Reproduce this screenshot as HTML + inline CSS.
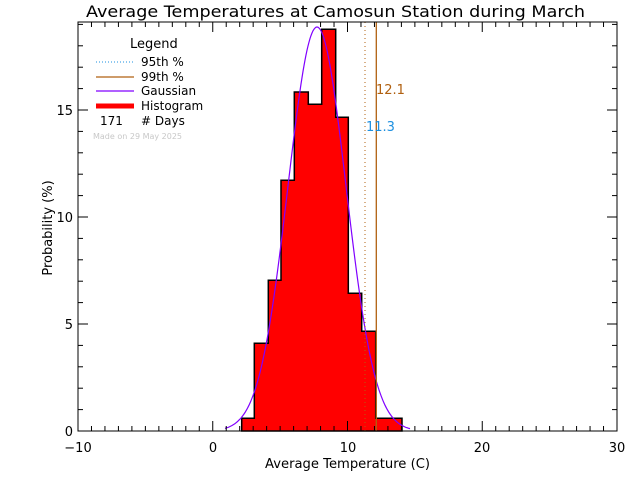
<!DOCTYPE html>
<html><head><meta charset="utf-8"><style>
html,body{margin:0;padding:0;background:#fff;}
svg{display:block;font-family:"DejaVu Sans","Liberation Sans",sans-serif;}
</style></head><body>
<svg width="640" height="480" viewBox="0 0 640 480" xmlns="http://www.w3.org/2000/svg">
<rect width="640" height="480" fill="#fff"/>
<text x="86" y="17" font-size="16" textLength="499" lengthAdjust="spacingAndGlyphs">Average Temperatures at Camosun Station during March</text>
<!-- bars -->
<path d="M241.7,431 V418.3 H254.3 V343.3 H268.3 V280.3 H281 V180.3 H294.3 V92 H308.3 V104.3 H321.7 V29.3 H335.7 V117.3 H348.3 V293.3 H361.7 V331.3 H375.7 V418.3 H402 V431 Z" fill="#ff0000" stroke="#000" stroke-width="1.5"/>
<!-- gaussian -->
<path id="g" fill="none" stroke="#8000ff" stroke-width="1.2" d=""/>
<line x1="365" y1="22" x2="365" y2="431" stroke="#b06010" stroke-width="1" stroke-dasharray="1,3"/>
<line x1="376.3" y1="22" x2="376.3" y2="431" stroke="#b06010" stroke-width="1.3"/>
<text x="376" y="94" font-size="13" fill="#b06010">12.1</text>
<text x="366" y="131" font-size="13" fill="#1e90e0">11.3</text>
<!-- axes -->
<rect x="78" y="22" width="539" height="409" fill="none" stroke="#000" stroke-width="1"/>
<g id="ticks" stroke="#000" stroke-width="1"></g>
<g font-size="13" text-anchor="middle">
<text x="78" y="452">−10</text><text x="213" y="452">0</text><text x="348" y="452">10</text><text x="482" y="452">20</text><text x="617" y="452">30</text>
</g>
<text x="265" y="468" font-size="13" textLength="165" lengthAdjust="spacingAndGlyphs">Average Temperature (C)</text>
<g font-size="13" text-anchor="end">
<text x="73" y="436">0</text><text x="73" y="329">5</text><text x="73" y="222">10</text><text x="73" y="115">15</text>
</g>
<text transform="translate(52,228) rotate(-90)" font-size="13" text-anchor="middle">Probability  (%)</text>
<!-- legend -->
<text x="130" y="48" font-size="13">Legend</text>
<line x1="96" y1="62" x2="134" y2="62" stroke="#1e90e0" stroke-dasharray="1,2"/>
<text x="141" y="66" font-size="12">95th %</text>
<line x1="96" y1="77" x2="134" y2="77" stroke="#b06010" stroke-width="1.2"/>
<text x="141" y="81" font-size="12">99th %</text>
<line x1="96" y1="91" x2="134" y2="91" stroke="#8000ff" stroke-width="1.2"/>
<text x="141" y="95" font-size="12">Gaussian</text>
<line x1="96" y1="106" x2="134" y2="106" stroke="#ff0000" stroke-width="5"/>
<text x="141" y="110" font-size="12">Histogram</text>
<text x="100" y="125" font-size="12">171</text>
<text x="141" y="125" font-size="12"># Days</text>
<text x="93" y="139" font-size="8" fill="#c8c8c8">Made on 29 May 2025</text>
</svg>
<script>
(function(){
var d="";for(var x=225;x<=410;x+=1){var y=431-404*Math.exp(-Math.pow(x-317,2)/(2*29*29));d+=(x==225?"M":"L")+x+","+y.toFixed(1);}
document.getElementById("g").setAttribute("d",d);
var ns="http://www.w3.org/2000/svg";var g=document.getElementById("ticks");
function ln(a,b,c,e){var l=document.createElementNS(ns,"line");l.setAttribute("x1",a);l.setAttribute("y1",b);l.setAttribute("x2",c);l.setAttribute("y2",e);g.appendChild(l);}
for(var i=-10;i<=30;i++){var x=78+(i+10)*13.475;var L=(i%10==0)?10:5;ln(x,431,x,431-L);ln(x,22,x,22+L);}
for(var j=0;j<=19;j++){var y=431-j*21.4;if(y<22)break;var L=(j%5==0)?10:5;ln(78,y,78+L,y);ln(617,y,617-L,y);}
})();
</script>
</body></html>
